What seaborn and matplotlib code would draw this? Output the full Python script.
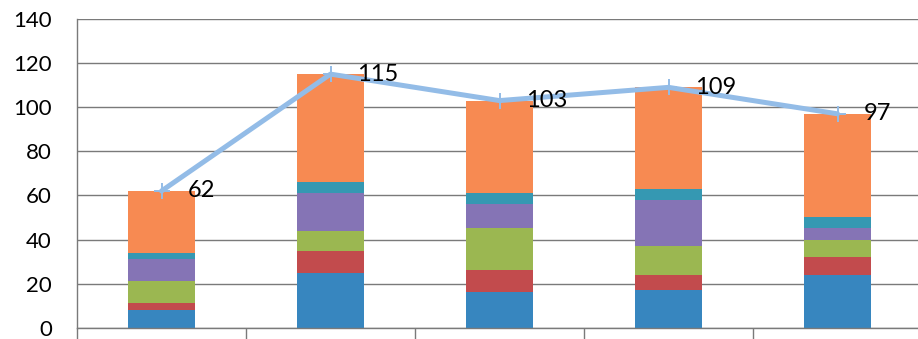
import matplotlib
matplotlib.use("Agg")
import matplotlib.pyplot as plt
import numpy as np
import seaborn as sns

# Five groups, six stacked components each, plus a total line
groups = ["A", "B", "C", "D", "E"]
blue = [8, 25, 16, 17, 24]
red = [3, 10, 10, 7, 8]
green = [10, 9, 19, 13, 8]
purple = [10, 17, 11, 21, 5]
teal = [3, 5, 5, 5, 5]
orange = [28, 49, 42, 46, 47]
totals = [62, 115, 103, 109, 97]

series = [blue, red, green, purple, teal, orange]
colors = ["#3786bf", "#c24b4d", "#9bb751", "#8574b5", "#3598b2", "#f78a52"]
line_color = "#93bce7"

sns.set_theme(style="white")
plt.rcParams["font.family"] = ["Lato", "DejaVu Sans"]

fig = plt.figure(figsize=(9.18, 3.39), dpi=100)
ax = fig.add_axes([77 / 918, 1 - 327.7 / 339, 1 - 77 / 918, (327.7 - 19) / 339])

bottom = np.zeros(len(groups))
for vals, col in zip(series, colors):
    sns.barplot(x=groups, y=vals, bottom=bottom, color=col, width=0.4,
                saturation=1, linewidth=0, errorbar=None, ax=ax, zorder=2)
    bottom = bottom + np.array(vals)

xpos = np.arange(len(groups))
sns.lineplot(x=xpos, y=totals, color=line_color, linewidth=3.6, marker="+",
             markersize=11, markeredgewidth=1.4, markeredgecolor=line_color,
             ax=ax, zorder=3)
for x, t in zip(xpos, totals):
    ax.annotate(str(t), (x, t), xytext=(19, 0), textcoords="offset points",
                ha="left", va="center", fontsize=17, color="#000000", zorder=4)

ax.set_ylim(0, 140)
ax.set_xlim(-0.5, (918 - 77) / 169 - 0.5)
ax.set_yticks(range(0, 141, 20))
ax.yaxis.grid(True, color="#7a7a7a", linewidth=1.0)
ax.set_axisbelow(True)

ax.set_xticks(np.arange(-0.5, 4.5, 1.0))
ax.set_xticklabels([])
ax.tick_params(axis="x", length=9, width=1.0, color="#7a7a7a", direction="out",
               bottom=True)
ax.tick_params(axis="y", length=0, pad=18, labelsize=16, labelcolor="#000000")

for side in ["top", "right"]:
    ax.spines[side].set_visible(False)
for side in ["left", "bottom"]:
    ax.spines[side].set_color("#7a7a7a")
    ax.spines[side].set_linewidth(1.0)
ax.set_xlabel("")
ax.set_ylabel("")

fig.savefig("out.png", dpi=100)
